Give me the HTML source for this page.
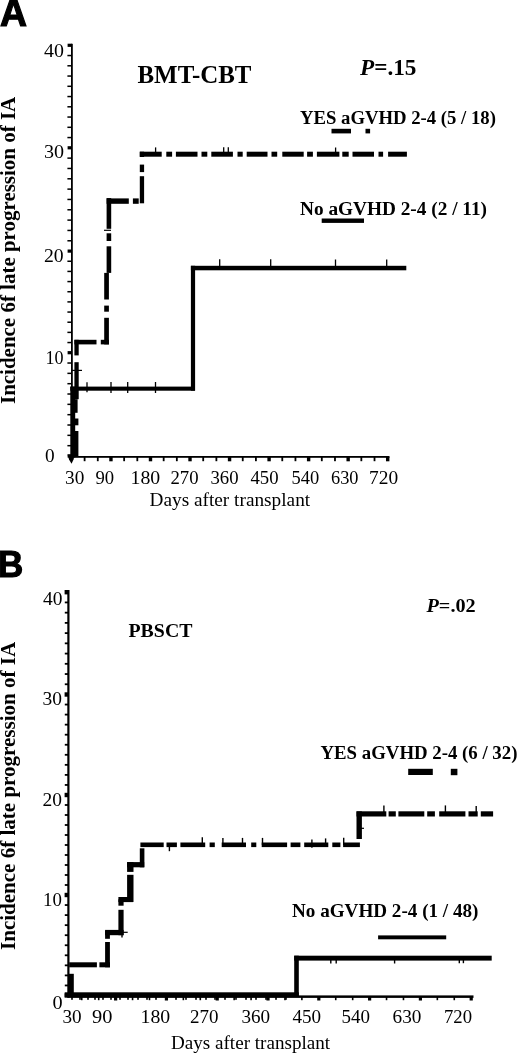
<!DOCTYPE html>
<html><head><meta charset="utf-8"><style>
html,body{margin:0;padding:0;background:#fff;}
svg{display:block;filter:grayscale(1);}
</style></head><body>
<svg width="520" height="1053" viewBox="0 0 520 1053">
<rect width="520" height="1053" fill="#fff"/>
<g fill="#000">
<rect x="71.00" y="43.80" width="1.80" height="413.70"/>
<rect x="67.60" y="454.40" width="4.30" height="3.20"/>
<rect x="67.40" y="444.92" width="4.50" height="1.50"/>
<rect x="67.40" y="434.59" width="4.50" height="1.50"/>
<rect x="67.40" y="424.26" width="4.50" height="1.50"/>
<rect x="67.40" y="413.93" width="4.50" height="1.50"/>
<rect x="67.40" y="403.60" width="4.50" height="1.50"/>
<rect x="67.40" y="393.27" width="4.50" height="1.50"/>
<rect x="67.40" y="382.94" width="4.50" height="1.50"/>
<rect x="67.40" y="372.61" width="4.50" height="1.50"/>
<rect x="67.40" y="362.28" width="4.50" height="1.50"/>
<rect x="67.60" y="351.10" width="4.30" height="3.20"/>
<rect x="67.40" y="341.79" width="4.50" height="1.50"/>
<rect x="67.40" y="331.63" width="4.50" height="1.50"/>
<rect x="67.40" y="321.47" width="4.50" height="1.50"/>
<rect x="67.40" y="311.31" width="4.50" height="1.50"/>
<rect x="67.40" y="301.15" width="4.50" height="1.50"/>
<rect x="67.40" y="290.99" width="4.50" height="1.50"/>
<rect x="67.40" y="280.83" width="4.50" height="1.50"/>
<rect x="67.40" y="270.67" width="4.50" height="1.50"/>
<rect x="67.40" y="260.51" width="4.50" height="1.50"/>
<rect x="67.60" y="249.50" width="4.30" height="3.20"/>
<rect x="67.40" y="240.02" width="4.50" height="1.50"/>
<rect x="67.40" y="229.69" width="4.50" height="1.50"/>
<rect x="67.40" y="219.36" width="4.50" height="1.50"/>
<rect x="67.40" y="209.03" width="4.50" height="1.50"/>
<rect x="67.40" y="198.70" width="4.50" height="1.50"/>
<rect x="67.40" y="188.37" width="4.50" height="1.50"/>
<rect x="67.40" y="178.04" width="4.50" height="1.50"/>
<rect x="67.40" y="167.71" width="4.50" height="1.50"/>
<rect x="67.40" y="157.38" width="4.50" height="1.50"/>
<rect x="67.60" y="146.20" width="4.30" height="3.20"/>
<rect x="67.40" y="136.80" width="4.50" height="1.50"/>
<rect x="67.40" y="126.55" width="4.50" height="1.50"/>
<rect x="67.40" y="116.30" width="4.50" height="1.50"/>
<rect x="67.40" y="106.05" width="4.50" height="1.50"/>
<rect x="67.40" y="95.80" width="4.50" height="1.50"/>
<rect x="67.40" y="85.55" width="4.50" height="1.50"/>
<rect x="67.40" y="75.30" width="4.50" height="1.50"/>
<rect x="67.40" y="65.05" width="4.50" height="1.50"/>
<rect x="67.40" y="54.80" width="4.50" height="1.50"/>
<rect x="67.60" y="43.70" width="4.30" height="3.20"/>
<rect x="70.60" y="456.00" width="318.90" height="1.80"/>
<polygon points="67.5,454.5 73.8,454.5 73.8,459 71.5,463.7 69,459.5"/>
<rect x="83.70" y="457.00" width="1.80" height="4.20"/>
<rect x="96.88" y="457.00" width="1.80" height="4.20"/>
<rect x="109.25" y="457.00" width="3.40" height="4.30"/>
<rect x="123.23" y="457.00" width="1.80" height="4.20"/>
<rect x="136.41" y="457.00" width="1.80" height="4.20"/>
<rect x="148.79" y="457.00" width="3.40" height="4.30"/>
<rect x="162.77" y="457.00" width="1.80" height="4.20"/>
<rect x="175.94" y="457.00" width="1.80" height="4.20"/>
<rect x="188.32" y="457.00" width="3.40" height="4.30"/>
<rect x="202.30" y="457.00" width="1.80" height="4.20"/>
<rect x="215.48" y="457.00" width="1.80" height="4.20"/>
<rect x="227.86" y="457.00" width="3.40" height="4.30"/>
<rect x="241.84" y="457.00" width="1.80" height="4.20"/>
<rect x="255.01" y="457.00" width="1.80" height="4.20"/>
<rect x="267.39" y="457.00" width="3.40" height="4.30"/>
<rect x="281.37" y="457.00" width="1.80" height="4.20"/>
<rect x="294.55" y="457.00" width="1.80" height="4.20"/>
<rect x="306.93" y="457.00" width="3.40" height="4.30"/>
<rect x="320.90" y="457.00" width="1.80" height="4.20"/>
<rect x="334.08" y="457.00" width="1.80" height="4.20"/>
<rect x="346.46" y="457.00" width="3.40" height="4.30"/>
<rect x="360.44" y="457.00" width="1.80" height="4.20"/>
<rect x="373.62" y="457.00" width="1.80" height="4.20"/>
<rect x="385.99" y="457.00" width="3.40" height="4.30"/>
<rect x="70.30" y="386.60" width="4.90" height="70.90"/>
<rect x="70.30" y="386.60" width="124.60" height="4.10"/>
<rect x="190.90" y="265.80" width="4.20" height="124.90"/>
<rect x="190.90" y="265.80" width="215.40" height="4.50"/>
<rect x="74.40" y="339.80" width="4.30" height="15.60"/>
<rect x="74.40" y="362.20" width="4.30" height="37.00"/>
<rect x="74.40" y="399.20" width="3.20" height="13.60"/>
<rect x="74.40" y="418.50" width="4.00" height="6.80"/>
<rect x="74.40" y="431.00" width="4.00" height="26.00"/>
<rect x="74.40" y="339.80" width="22.10" height="4.60"/>
<rect x="100.80" y="339.80" width="8.20" height="4.60"/>
<rect x="104.20" y="317.80" width="4.70" height="26.60"/>
<rect x="104.20" y="305.60" width="4.70" height="6.10"/>
<rect x="104.20" y="272.90" width="4.70" height="26.60"/>
<rect x="106.60" y="246.30" width="4.60" height="26.60"/>
<rect x="106.60" y="233.30" width="4.60" height="7.70"/>
<rect x="106.60" y="198.10" width="4.60" height="30.70"/>
<rect x="106.60" y="198.40" width="22.20" height="5.40"/>
<rect x="132.90" y="198.40" width="5.80" height="5.40"/>
<rect x="139.80" y="176.20" width="4.30" height="27.10"/>
<rect x="139.80" y="164.60" width="4.30" height="7.50"/>
<rect x="139.80" y="151.70" width="4.30" height="5.30"/>
<rect x="139.80" y="151.70" width="21.90" height="5.00"/>
<rect x="166.30" y="151.70" width="5.80" height="5.00"/>
<rect x="175.90" y="151.70" width="21.60" height="5.00"/>
<rect x="201.50" y="151.70" width="5.80" height="5.00"/>
<rect x="211.30" y="151.70" width="21.60" height="5.00"/>
<rect x="237.50" y="151.70" width="5.20" height="5.00"/>
<rect x="246.70" y="151.70" width="20.80" height="5.00"/>
<rect x="271.50" y="151.70" width="5.70" height="5.00"/>
<rect x="282.30" y="151.70" width="21.40" height="5.00"/>
<rect x="307.10" y="151.70" width="5.80" height="5.00"/>
<rect x="316.90" y="151.70" width="22.50" height="5.00"/>
<rect x="342.30" y="151.70" width="6.40" height="5.00"/>
<rect x="352.50" y="151.70" width="21.50" height="5.00"/>
<rect x="378.50" y="151.70" width="4.60" height="5.00"/>
<rect x="388.10" y="151.70" width="18.80" height="5.00"/>
<rect x="331.50" y="128.80" width="19.50" height="4.60"/>
<rect x="365.50" y="128.80" width="4.60" height="4.60"/>
<rect x="321.70" y="218.50" width="42.30" height="4.40"/>
</g>
<line x1="87" y1="382.3" x2="87" y2="392.3" stroke="#000" stroke-width="1.3"/>
<line x1="111" y1="382" x2="111" y2="393" stroke="#000" stroke-width="1.3"/>
<line x1="127.7" y1="382" x2="127.7" y2="393" stroke="#000" stroke-width="1.3"/>
<line x1="155.5" y1="382" x2="155.5" y2="393" stroke="#000" stroke-width="1.3"/>
<line x1="219.7" y1="259.2" x2="219.7" y2="267" stroke="#000" stroke-width="1.3"/>
<line x1="270.7" y1="259.2" x2="270.7" y2="267" stroke="#000" stroke-width="1.3"/>
<line x1="335.5" y1="259.5" x2="335.5" y2="267" stroke="#000" stroke-width="1.3"/>
<line x1="386.7" y1="259.5" x2="386.7" y2="267" stroke="#000" stroke-width="1.3"/>
<line x1="155.6" y1="147.4" x2="155.6" y2="153" stroke="#000" stroke-width="1.3"/>
<line x1="223.7" y1="147.3" x2="223.7" y2="153" stroke="#000" stroke-width="1.3"/>
<line x1="228.3" y1="147.3" x2="228.3" y2="153" stroke="#000" stroke-width="1.3"/>
<line x1="335.6" y1="147.5" x2="335.6" y2="153" stroke="#000" stroke-width="1.3"/>
<line x1="72" y1="370.4" x2="82" y2="370.4" stroke="#000" stroke-width="1.2"/>
<line x1="104" y1="230.3" x2="111" y2="230.3" stroke="#000" stroke-width="1.2"/>
<g fill="#000">
<rect x="67.30" y="590.00" width="2.20" height="407.50"/>
<rect x="64.60" y="993.30" width="3.80" height="4.40"/>
<rect x="64.80" y="984.55" width="3.60" height="1.80"/>
<rect x="64.80" y="974.50" width="3.60" height="1.80"/>
<rect x="64.80" y="964.45" width="3.60" height="1.80"/>
<rect x="64.80" y="954.40" width="3.60" height="1.80"/>
<rect x="64.80" y="944.35" width="3.60" height="1.80"/>
<rect x="64.80" y="934.30" width="3.60" height="1.80"/>
<rect x="64.80" y="924.25" width="3.60" height="1.80"/>
<rect x="64.80" y="914.20" width="3.60" height="1.80"/>
<rect x="64.80" y="904.15" width="3.60" height="1.80"/>
<rect x="64.60" y="892.80" width="3.80" height="4.40"/>
<rect x="64.80" y="884.10" width="3.60" height="1.80"/>
<rect x="64.80" y="874.10" width="3.60" height="1.80"/>
<rect x="64.80" y="864.10" width="3.60" height="1.80"/>
<rect x="64.80" y="854.10" width="3.60" height="1.80"/>
<rect x="64.80" y="844.10" width="3.60" height="1.80"/>
<rect x="64.80" y="834.10" width="3.60" height="1.80"/>
<rect x="64.80" y="824.10" width="3.60" height="1.80"/>
<rect x="64.80" y="814.10" width="3.60" height="1.80"/>
<rect x="64.80" y="804.10" width="3.60" height="1.80"/>
<rect x="64.60" y="792.80" width="3.80" height="4.40"/>
<rect x="64.80" y="784.05" width="3.60" height="1.80"/>
<rect x="64.80" y="774.00" width="3.60" height="1.80"/>
<rect x="64.80" y="763.95" width="3.60" height="1.80"/>
<rect x="64.80" y="753.90" width="3.60" height="1.80"/>
<rect x="64.80" y="743.85" width="3.60" height="1.80"/>
<rect x="64.80" y="733.80" width="3.60" height="1.80"/>
<rect x="64.80" y="723.75" width="3.60" height="1.80"/>
<rect x="64.80" y="713.70" width="3.60" height="1.80"/>
<rect x="64.80" y="703.65" width="3.60" height="1.80"/>
<rect x="64.60" y="692.30" width="3.80" height="4.40"/>
<rect x="64.80" y="683.37" width="3.60" height="1.80"/>
<rect x="64.80" y="673.14" width="3.60" height="1.80"/>
<rect x="64.80" y="662.91" width="3.60" height="1.80"/>
<rect x="64.80" y="652.68" width="3.60" height="1.80"/>
<rect x="64.80" y="642.45" width="3.60" height="1.80"/>
<rect x="64.80" y="632.22" width="3.60" height="1.80"/>
<rect x="64.80" y="621.99" width="3.60" height="1.80"/>
<rect x="64.80" y="611.76" width="3.60" height="1.80"/>
<rect x="64.80" y="601.53" width="3.60" height="1.80"/>
<rect x="64.60" y="590.00" width="3.80" height="4.40"/>
<rect x="67.50" y="995.40" width="406.00" height="2.50"/>
<rect x="80.96" y="996.50" width="1.60" height="3.70"/>
<rect x="97.90" y="996.50" width="1.60" height="3.70"/>
<rect x="114.03" y="996.50" width="3.20" height="4.00"/>
<rect x="131.76" y="996.50" width="1.60" height="3.70"/>
<rect x="148.69" y="996.50" width="1.60" height="3.70"/>
<rect x="164.82" y="996.50" width="3.20" height="4.00"/>
<rect x="182.56" y="996.50" width="1.60" height="3.70"/>
<rect x="199.49" y="996.50" width="1.60" height="3.70"/>
<rect x="215.62" y="996.50" width="3.20" height="4.00"/>
<rect x="233.35" y="996.50" width="1.60" height="3.70"/>
<rect x="250.28" y="996.50" width="1.60" height="3.70"/>
<rect x="266.42" y="996.50" width="3.20" height="4.00"/>
<rect x="284.15" y="996.50" width="1.60" height="3.70"/>
<rect x="301.08" y="996.50" width="1.60" height="3.70"/>
<rect x="317.21" y="996.50" width="3.20" height="4.00"/>
<rect x="334.94" y="996.50" width="1.60" height="3.70"/>
<rect x="351.88" y="996.50" width="1.60" height="3.70"/>
<rect x="368.01" y="996.50" width="3.20" height="4.00"/>
<rect x="385.74" y="996.50" width="1.60" height="3.70"/>
<rect x="402.67" y="996.50" width="1.60" height="3.70"/>
<rect x="418.80" y="996.50" width="3.20" height="4.00"/>
<rect x="436.54" y="996.50" width="1.60" height="3.70"/>
<rect x="453.47" y="996.50" width="1.60" height="3.70"/>
<rect x="469.60" y="996.50" width="3.20" height="4.00"/>
<rect x="71.20" y="996.50" width="1.60" height="3.30"/>
<rect x="79.20" y="996.50" width="1.60" height="3.30"/>
<rect x="87.20" y="996.50" width="1.60" height="3.30"/>
<rect x="94.20" y="996.50" width="1.60" height="3.30"/>
<rect x="102.20" y="996.50" width="1.60" height="3.30"/>
<rect x="110.20" y="996.50" width="1.60" height="3.30"/>
<rect x="119.20" y="996.50" width="1.60" height="3.30"/>
<rect x="127.20" y="996.50" width="1.60" height="3.30"/>
<rect x="137.20" y="996.50" width="1.60" height="3.30"/>
<rect x="146.20" y="996.50" width="1.60" height="3.30"/>
<rect x="155.20" y="996.50" width="1.60" height="3.30"/>
<rect x="165.20" y="996.50" width="1.60" height="3.30"/>
<rect x="175.20" y="996.50" width="1.60" height="3.30"/>
<rect x="185.20" y="996.50" width="1.60" height="3.30"/>
<rect x="195.20" y="996.50" width="1.60" height="3.30"/>
<rect x="205.20" y="996.50" width="1.60" height="3.30"/>
<rect x="214.20" y="996.50" width="1.60" height="3.30"/>
<rect x="224.20" y="996.50" width="1.60" height="3.30"/>
<rect x="235.20" y="996.50" width="1.60" height="3.30"/>
<rect x="245.20" y="996.50" width="1.60" height="3.30"/>
<rect x="255.20" y="996.50" width="1.60" height="3.30"/>
<rect x="265.20" y="996.50" width="1.60" height="3.30"/>
<rect x="275.20" y="996.50" width="1.60" height="3.30"/>
<rect x="285.20" y="996.50" width="1.60" height="3.30"/>
<rect x="64.70" y="992.30" width="234.10" height="4.60"/>
<rect x="294.20" y="955.70" width="4.60" height="41.20"/>
<rect x="294.20" y="955.70" width="197.50" height="4.90"/>
<rect x="68.70" y="973.80" width="5.10" height="19.20"/>
<rect x="69.20" y="962.30" width="27.70" height="5.00"/>
<rect x="99.40" y="962.30" width="10.60" height="5.00"/>
<rect x="105.10" y="942.00" width="4.80" height="25.30"/>
<rect x="105.10" y="930.70" width="4.80" height="8.10"/>
<rect x="105.10" y="929.90" width="18.50" height="5.30"/>
<rect x="118.40" y="909.80" width="5.20" height="25.40"/>
<rect x="118.40" y="899.30" width="5.20" height="6.40"/>
<rect x="118.40" y="897.00" width="14.60" height="5.10"/>
<rect x="127.10" y="874.80" width="6.40" height="27.20"/>
<rect x="127.10" y="862.10" width="6.40" height="9.80"/>
<rect x="127.10" y="862.10" width="17.10" height="5.20"/>
<rect x="139.80" y="848.30" width="4.60" height="19.00"/>
<rect x="140.40" y="842.50" width="23.30" height="4.60"/>
<rect x="166.50" y="842.50" width="10.40" height="4.60"/>
<rect x="180.40" y="842.50" width="24.80" height="4.60"/>
<rect x="209.60" y="842.50" width="5.20" height="4.60"/>
<rect x="221.70" y="842.50" width="24.30" height="4.60"/>
<rect x="251.20" y="842.50" width="5.10" height="4.60"/>
<rect x="261.70" y="842.50" width="25.40" height="4.60"/>
<rect x="290.60" y="842.50" width="9.80" height="4.60"/>
<rect x="304.20" y="842.50" width="24.10" height="4.60"/>
<rect x="332.30" y="842.50" width="8.10" height="4.60"/>
<rect x="343.10" y="842.50" width="16.80" height="4.60"/>
<rect x="356.50" y="811.40" width="5.40" height="27.60"/>
<rect x="356.50" y="811.30" width="29.80" height="5.20"/>
<rect x="388.60" y="811.30" width="7.20" height="5.20"/>
<rect x="398.40" y="811.30" width="25.90" height="5.20"/>
<rect x="427.20" y="811.30" width="7.70" height="5.20"/>
<rect x="439.20" y="811.30" width="26.20" height="5.20"/>
<rect x="468.50" y="811.30" width="9.20" height="5.20"/>
<rect x="480.80" y="811.30" width="12.30" height="5.20"/>
<rect x="408.20" y="768.80" width="24.60" height="6.20"/>
<rect x="450.80" y="768.80" width="6.60" height="6.40"/>
<rect x="378.10" y="935.40" width="68.10" height="3.90"/>
</g>
<line x1="169.4" y1="845" x2="169.4" y2="851.2" stroke="#000" stroke-width="1.4"/>
<line x1="202.3" y1="837.3" x2="202.3" y2="845" stroke="#000" stroke-width="1.4"/>
<line x1="222.9" y1="837.9" x2="222.9" y2="845" stroke="#000" stroke-width="1.4"/>
<line x1="242.5" y1="837.9" x2="242.5" y2="845" stroke="#000" stroke-width="1.4"/>
<line x1="262.5" y1="837.9" x2="262.5" y2="845" stroke="#000" stroke-width="1.4"/>
<line x1="311.9" y1="839.6" x2="311.9" y2="847.7" stroke="#000" stroke-width="1.4"/>
<line x1="325.6" y1="838.4" x2="325.6" y2="845" stroke="#000" stroke-width="1.4"/>
<line x1="343.7" y1="837.7" x2="343.7" y2="845" stroke="#000" stroke-width="1.4"/>
<line x1="383.9" y1="805.4" x2="383.9" y2="814" stroke="#000" stroke-width="1.4"/>
<line x1="445.4" y1="805.4" x2="445.4" y2="814" stroke="#000" stroke-width="1.4"/>
<line x1="476.2" y1="806" x2="476.2" y2="814" stroke="#000" stroke-width="1.4"/>
<line x1="330.8" y1="958" x2="330.8" y2="963.5" stroke="#000" stroke-width="1.4"/>
<line x1="336.2" y1="958" x2="336.2" y2="963.5" stroke="#000" stroke-width="1.4"/>
<line x1="394.6" y1="958" x2="394.6" y2="963.5" stroke="#000" stroke-width="1.4"/>
<line x1="459.3" y1="958" x2="459.3" y2="963.2" stroke="#000" stroke-width="1.4"/>
<line x1="463.4" y1="958" x2="463.4" y2="963.2" stroke="#000" stroke-width="1.4"/>
<line x1="122" y1="932" x2="122" y2="937.6" stroke="#000" stroke-width="1.4"/>
<line x1="118" y1="932.3" x2="127.7" y2="932.3" stroke="#000" stroke-width="1.2"/>
<line x1="359" y1="828.3" x2="364" y2="828.3" stroke="#000" stroke-width="1.2"/>
<text x="0.00" y="26.00" font-family='"Liberation Sans", sans-serif' font-weight="bold" font-style="normal" font-size="38.5" textLength="27.01" lengthAdjust="spacingAndGlyphs" stroke="#000" stroke-width="1.2">A</text>
<text x="0" y="0" transform="translate(14.70 404.00) rotate(-90)" font-family='"Liberation Serif", serif' font-weight="bold" font-style="normal" font-size="20.6" textLength="307.24" lengthAdjust="spacingAndGlyphs">Incidence 6f late progression of IA</text>
<text x="44.00" y="57.30" font-family='"Liberation Serif", serif' font-weight="normal" font-style="normal" font-size="19.7" textLength="19.89" lengthAdjust="spacingAndGlyphs">40</text>
<text x="44.00" y="157.60" font-family='"Liberation Serif", serif' font-weight="normal" font-style="normal" font-size="19.7" textLength="20.09" lengthAdjust="spacingAndGlyphs">30</text>
<text x="44.00" y="261.80" font-family='"Liberation Serif", serif' font-weight="normal" font-style="normal" font-size="19.7" textLength="19.69" lengthAdjust="spacingAndGlyphs">20</text>
<text x="45.50" y="364.20" font-family='"Liberation Serif", serif' font-weight="normal" font-style="normal" font-size="19.7" textLength="18.09" lengthAdjust="spacingAndGlyphs">10</text>
<text x="45.00" y="462.10" font-family='"Liberation Serif", serif' font-weight="normal" font-style="normal" font-size="19.7" textLength="9.64" lengthAdjust="spacingAndGlyphs">0</text>
<text x="65.00" y="484.10" font-family='"Liberation Serif", serif' font-weight="normal" font-style="normal" font-size="19.3" textLength="19.28" lengthAdjust="spacingAndGlyphs">30</text>
<text x="95.50" y="484.10" font-family='"Liberation Serif", serif' font-weight="normal" font-style="normal" font-size="19.3" textLength="18.68" lengthAdjust="spacingAndGlyphs">90</text>
<text x="130.50" y="484.10" font-family='"Liberation Serif", serif' font-weight="normal" font-style="normal" font-size="19.3" textLength="29.72" lengthAdjust="spacingAndGlyphs">180</text>
<text x="170.50" y="484.10" font-family='"Liberation Serif", serif' font-weight="normal" font-style="normal" font-size="19.3" textLength="28.12" lengthAdjust="spacingAndGlyphs">270</text>
<text x="210.50" y="484.10" font-family='"Liberation Serif", serif' font-weight="normal" font-style="normal" font-size="19.3" textLength="28.12" lengthAdjust="spacingAndGlyphs">360</text>
<text x="250.50" y="484.10" font-family='"Liberation Serif", serif' font-weight="normal" font-style="normal" font-size="19.3" textLength="28.12" lengthAdjust="spacingAndGlyphs">450</text>
<text x="291.50" y="484.10" font-family='"Liberation Serif", serif' font-weight="normal" font-style="normal" font-size="19.3" textLength="27.72" lengthAdjust="spacingAndGlyphs">540</text>
<text x="331.00" y="484.10" font-family='"Liberation Serif", serif' font-weight="normal" font-style="normal" font-size="19.3" textLength="27.52" lengthAdjust="spacingAndGlyphs">630</text>
<text x="369.00" y="484.10" font-family='"Liberation Serif", serif' font-weight="normal" font-style="normal" font-size="19.3" textLength="29.12" lengthAdjust="spacingAndGlyphs">720</text>
<text x="149.50" y="505.70" font-family='"Liberation Serif", serif' font-weight="normal" font-style="normal" font-size="18.8" textLength="160.65" lengthAdjust="spacingAndGlyphs">Days after transplant</text>
<text x="137.50" y="82.90" font-family='"Liberation Serif", serif' font-weight="bold" font-style="normal" font-size="25" textLength="113.99" lengthAdjust="spacingAndGlyphs">BMT-CBT</text>
<text x="360.00" y="74.60" font-family='"Liberation Serif", serif' font-weight="bold" font-style="normal" font-size="22.4" textLength="56.44" lengthAdjust="spacingAndGlyphs"><tspan font-style="italic">P</tspan>=.15</text>
<text x="300.00" y="123.80" font-family='"Liberation Serif", serif' font-weight="bold" font-style="normal" font-size="19.2" textLength="195.94" lengthAdjust="spacingAndGlyphs">YES aGVHD 2-4 (5 / 18)</text>
<text x="300.00" y="215.20" font-family='"Liberation Serif", serif' font-weight="bold" font-style="normal" font-size="19.4" textLength="186.98" lengthAdjust="spacingAndGlyphs">No aGVHD 2-4 (2 / 11)</text>
<text x="-2.00" y="576.90" font-family='"Liberation Sans", sans-serif' font-weight="bold" font-style="normal" font-size="36.3" textLength="25.22" lengthAdjust="spacingAndGlyphs" stroke="#000" stroke-width="1.2">B</text>
<text x="0" y="0" transform="translate(14.80 950.00) rotate(-90)" font-family='"Liberation Serif", serif' font-weight="bold" font-style="normal" font-size="20.9" textLength="308.20" lengthAdjust="spacingAndGlyphs">Incidence 6f late progression of IA</text>
<text x="43.00" y="604.50" font-family='"Liberation Serif", serif' font-weight="normal" font-style="normal" font-size="18.7" textLength="19.49" lengthAdjust="spacingAndGlyphs">40</text>
<text x="42.50" y="704.50" font-family='"Liberation Serif", serif' font-weight="normal" font-style="normal" font-size="18.7" textLength="19.49" lengthAdjust="spacingAndGlyphs">30</text>
<text x="42.50" y="805.80" font-family='"Liberation Serif", serif' font-weight="normal" font-style="normal" font-size="18.7" textLength="19.49" lengthAdjust="spacingAndGlyphs">20</text>
<text x="43.00" y="905.80" font-family='"Liberation Serif", serif' font-weight="normal" font-style="normal" font-size="18.7" textLength="18.89" lengthAdjust="spacingAndGlyphs">10</text>
<text x="52.50" y="1009.00" font-family='"Liberation Serif", serif' font-weight="normal" font-style="normal" font-size="18.7" textLength="10.14" lengthAdjust="spacingAndGlyphs">0</text>
<text x="62.50" y="1023.20" font-family='"Liberation Serif", serif' font-weight="normal" font-style="normal" font-size="19.4" textLength="19.19" lengthAdjust="spacingAndGlyphs">30</text>
<text x="92.00" y="1023.20" font-family='"Liberation Serif", serif' font-weight="normal" font-style="normal" font-size="19.4" textLength="20.39" lengthAdjust="spacingAndGlyphs">90</text>
<text x="140.50" y="1023.20" font-family='"Liberation Serif", serif' font-weight="normal" font-style="normal" font-size="19.4" textLength="29.69" lengthAdjust="spacingAndGlyphs">180</text>
<text x="190.00" y="1023.20" font-family='"Liberation Serif", serif' font-weight="normal" font-style="normal" font-size="19.4" textLength="28.49" lengthAdjust="spacingAndGlyphs">270</text>
<text x="241.50" y="1023.20" font-family='"Liberation Serif", serif' font-weight="normal" font-style="normal" font-size="19.4" textLength="28.69" lengthAdjust="spacingAndGlyphs">360</text>
<text x="292.50" y="1023.20" font-family='"Liberation Serif", serif' font-weight="normal" font-style="normal" font-size="19.4" textLength="28.69" lengthAdjust="spacingAndGlyphs">450</text>
<text x="341.50" y="1023.20" font-family='"Liberation Serif", serif' font-weight="normal" font-style="normal" font-size="19.4" textLength="28.49" lengthAdjust="spacingAndGlyphs">540</text>
<text x="392.50" y="1023.20" font-family='"Liberation Serif", serif' font-weight="normal" font-style="normal" font-size="19.4" textLength="28.89" lengthAdjust="spacingAndGlyphs">630</text>
<text x="444.00" y="1023.20" font-family='"Liberation Serif", serif' font-weight="normal" font-style="normal" font-size="19.4" textLength="28.09" lengthAdjust="spacingAndGlyphs">720</text>
<text x="171.00" y="1048.50" font-family='"Liberation Serif", serif' font-weight="normal" font-style="normal" font-size="19.0" textLength="159.08" lengthAdjust="spacingAndGlyphs">Days after transplant</text>
<text x="128.50" y="636.80" font-family='"Liberation Serif", serif' font-weight="bold" font-style="normal" font-size="19.8" textLength="63.97" lengthAdjust="spacingAndGlyphs">PBSCT</text>
<text x="426.50" y="612.30" font-family='"Liberation Serif", serif' font-weight="bold" font-style="normal" font-size="19.6" textLength="49.24" lengthAdjust="spacingAndGlyphs"><tspan font-style="italic">P</tspan>=.02</text>
<text x="320.50" y="758.80" font-family='"Liberation Serif", serif' font-weight="bold" font-style="normal" font-size="19.2" textLength="196.94" lengthAdjust="spacingAndGlyphs">YES aGVHD 2-4 (6 / 32)</text>
<text x="292.00" y="916.60" font-family='"Liberation Serif", serif' font-weight="bold" font-style="normal" font-size="19.0" textLength="186.43" lengthAdjust="spacingAndGlyphs">No aGVHD 2-4 (1 / 48)</text>
</svg>
</body></html>
